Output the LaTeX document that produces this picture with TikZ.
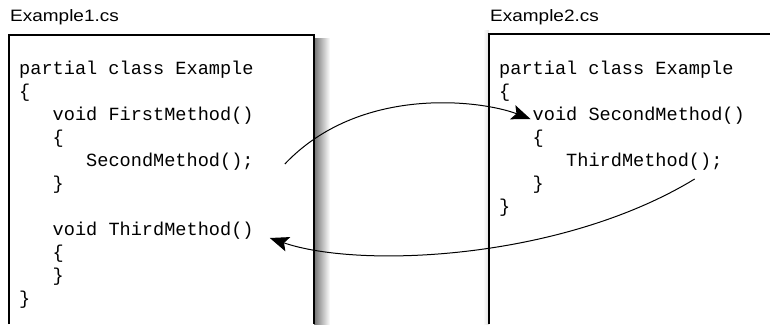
\documentclass[tikz,border=0pt]{standalone}
\usepackage{fontspec}
\setmainfont{Liberation Sans}
\newfontfamily\codefont{Liberation Mono}
\usepackage{graphicx}
\usetikzlibrary{calc,arrows.meta}

\begin{document}
\begin{tikzpicture}[x=1pt,y=-1pt,
    code/.style={anchor=base west,inner sep=0pt,font=\codefont\fontsize{18.6}{20}\selectfont},
    file/.style={anchor=base west,inner sep=0pt,font=\fontsize{16.5}{18}\selectfont},
    call/.style={-{Stealth[length=19pt,width=15pt,inset=4pt]},line width=1pt}]
    \useasboundingbox (0,0) rectangle (770,324);
    % shadows
    \shade[left color=black!55,right color=white] (314,38) rectangle (330,324);
    \shade[left color=white,right color=black!12] (483,30) rectangle (489,324);
    \draw[line width=1.2pt] (9,324) |- (314,35) -- (314,324);
    \draw[line width=1.2pt] (489,324) |- (770,34);
    \node[file] (f1) at (10,21) {\scalebox{1.15}[1]{Example1.cs}};
    \node[file] (f2) at (490,21) {\scalebox{1.15}[1]{Example2.cs}};
    % first file
    \node[code] (a1) at (19,74) {partial class Example};
    \node[code] (a2) at (19,97) {\{};
    \node[code] (a3) at (52.5,120) {void FirstMethod()};
    \node[code] (a4) at (52.5,143) {\{};
    \node[code] (c1) at (86,166) {SecondMethod();};
    \node[code] (a5) at (52.5,189) {\}};
    \node[code] (d3) at (52.5,235) {void ThirdMethod()};
    \node[code] (a6) at (52.5,258) {\{};
    \node[code] (a7) at (52.5,281) {\}};
    \node[code] (a8) at (19,304) {\}};
    % second file
    \node[code] (b1) at (499,74) {partial class Example};
    \node[code] (b2) at (499,97) {\{};
    \node[code] (d2) at (532.5,120) {void SecondMethod()};
    \node[code] (b3) at (532.5,143) {\{};
    \node[code] (c3) at (566,166) {ThirdMethod();};
    \node[code] (b4) at (532.5,189) {\}};
    \node[code] (b5) at (499,212) {\}};
    \draw[call] ($(c1.base east)+(31,-2)$) .. controls +(75,-79) and +(-50,-19) .. ($(d2.base west)+(-2,-1)$);
    \draw[call] ($(c3.base east)+(-28,13)$) .. controls +(-133,81) and +(90,31) .. ($(d3.base east)+(16,3)$);
\end{tikzpicture}
\end{document}
